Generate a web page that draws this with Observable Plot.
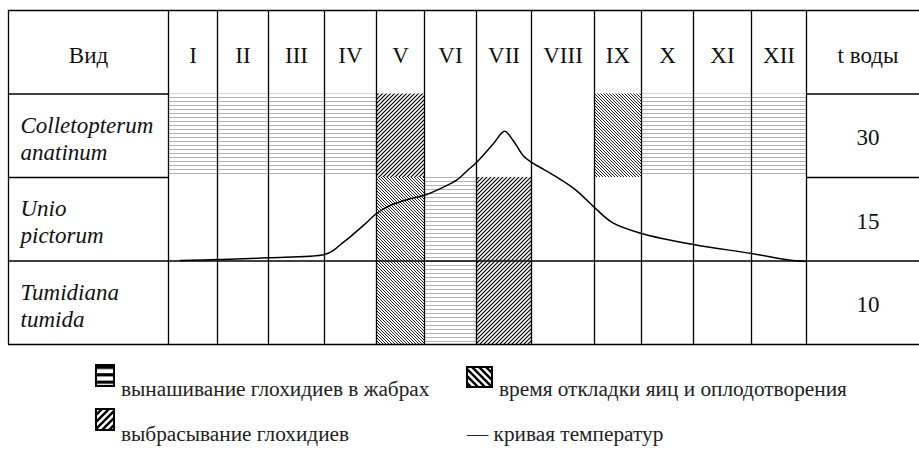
<!DOCTYPE html>
<html><head><meta charset="utf-8">
<script src="https://cdn.jsdelivr.net/npm/d3@7"></script>
<script src="https://cdn.jsdelivr.net/npm/@observablehq/plot@0.6"></script>
<style>
body{margin:0;background:#fff;width:919px;height:450px;overflow:hidden;font-family:'Liberation Serif';}
</style></head><body>
<svg width="0" height="0" style="position:absolute">
<defs>
  <pattern id="pBrood" patternUnits="userSpaceOnUse" width="8" height="4"><rect x="0" y="1" width="8" height="1" fill="#b2b2b2"/></pattern>
  <pattern id="pRelease" patternUnits="userSpaceOnUse" width="4" height="4"><path d="M-1,1 L1,-1 M0,4 L4,0 M3,5 L5,3" stroke="#000" stroke-width="1.2"/></pattern>
  <pattern id="pSpawn" patternUnits="userSpaceOnUse" width="3" height="3"><path d="M-1,2 L1,4 M0,0 L3,3 M2,-1 L4,1" stroke="#222" stroke-width="1"/></pattern>
  <pattern id="lBrood" patternUnits="userSpaceOnUse" width="10" height="7.4" y="1"><rect x="0" y="0" width="10" height="3.2" fill="#000"/></pattern>
  <pattern id="lRelease" patternUnits="userSpaceOnUse" width="7" height="7"><path d="M-2,2 L2,-2 M0,7 L7,0 M5,9 L9,5" stroke="#000" stroke-width="2.4"/></pattern>
  <pattern id="lSpawn" patternUnits="userSpaceOnUse" width="7" height="7"><path d="M-2,5 L2,9 M0,0 L7,7 M5,-2 L9,2" stroke="#000" stroke-width="2.4"/></pattern>
</defs></svg>
<div id="chart"></div>
<div id="leg"></div>
<script>
// ---- data ----
const months = ["I","II","III","IV","V","VI","VII","VIII","IX","X","XI","XII"];
const species = ["Colletopterum\nanatinum", "Unio\npictorum", "Tumidiana\ntumida"];
const headerLeft = "Вид";
const headerRight = "t воды";
const tempTicks = [30, 15, 10];
// periods: [species index, first month, last month]
const brooding = [[0, 1, 4], [0, 10, 12], [1, 6, 6], [2, 6, 6]];   // вынашивание глохидиев
const release  = [[0, 5, 5], [1, 7, 7], [2, 7, 7]];                // выбрасывание глохидиев
const spawning = [[0, 9, 9], [1, 5, 5], [2, 5, 5]];                // откладка яиц
// temperature curve: month position (0 = start of I, 12 = end of XII), temperature
const curveMonth = [0.24, 1.0, 2.0, 3.0, 3.17, 3.31, 3.5, 3.77, 4.0, 4.29, 4.71, 5.0, 5.5, 5.63, 5.83, 6.0, 6.31, 6.51, 6.67, 6.85, 7.0, 7.14, 7.44, 7.71, 8.0, 8.38, 9.0, 10.0, 11.0, 11.75, 12.0];
const curveTemp  = [12.53, 12.59, 12.69, 12.89, 13.13, 13.49, 13.96, 14.69, 16.03, 17.5, 18.7, 19.3, 21.4, 22.1, 23.8, 25.2, 28.6, 30.8, 29.1, 26.4, 25.2, 24.3, 22.3, 20.2, 17.1, 14.8, 14.15, 13.49, 12.95, 12.53, 12.47];
const legendItems = ["вынашивание глохидиев в жабрах", "время откладки яиц и оплодотворения", "выбрасывание глохидиев", "— кривая температур"];

// ---- derived tables ----
const nRows = species.length + 1;
const toRect = ([s, a, b]) => ({x1: a - 1, x2: b, y1: s + 1, y2: s + 2});
const tempRow = d3.scaleLinear().domain(tempTicks).range(tempTicks.map((_, i) => i + 1.5));
const curve = curveMonth.map((m, i) => ({m, r: tempRow(curveTemp[i])}));
const colBounds = d3.range(-1, months.length + 1);
const fullRules = [0, nRows - 1, nRows];
const partRules = d3.range(1, nRows - 1);
const hSegs = [
  ...fullRules.map(y => ({y, x1: -1, x2: months.length + 1})),
  ...partRules.flatMap(y => [{y, x1: -1, x2: 0}, {y, x1: months.length, x2: months.length + 1}])
];
const font = "Liberation Serif";
const fs = 23;

const chart = Plot.plot({
  width: 919, height: 350,
  marginTop: 0, marginRight: 0, marginBottom: 0, marginLeft: 0,
  x: {type: "linear", domain: d3.range(-1, 14), range: [8, 168, 217, 268, 324, 376, 424, 476, 531, 594, 641, 693, 751, 806, 929], axis: null},
  y: {type: "linear", domain: [0, 4], range: [10, 344], axis: null},
  style: {background: "white", color: "black", overflow: "visible"},
  marks: [
    Plot.rect(brooding.map(toRect), {x1: "x1", x2: "x2", y1: "y1", y2: "y2", fill: "url(#pBrood)"}),
    Plot.rect(release.map(toRect), {x1: "x1", x2: "x2", y1: "y1", y2: "y2", fill: "url(#pRelease)"}),
    Plot.rect(spawning.map(toRect), {x1: "x1", x2: "x2", y1: "y1", y2: "y2", fill: "url(#pSpawn)"}),
    Plot.ruleX(colBounds, {x: d => d, y1: 0, y2: nRows, stroke: "black", strokeWidth: 1.3}),
    Plot.ruleY(hSegs, {y: "y", x1: "x1", x2: "x2", stroke: "black", strokeWidth: 1.3}),
    Plot.line(curve, {x: "m", y: "r", curve: "catmull-rom", stroke: "black", strokeWidth: 1.5}),
    Plot.text(months, {x: (d, i) => i + 0.5, y: 0.5, text: d => d, fontFamily: font, fontSize: fs, dy: 3, fill: "#111"}),
    Plot.text([headerLeft], {x: -0.5, y: 0.5, text: d => d, fontFamily: font, fontSize: fs, dy: 3, fill: "#111"}),
    Plot.text([headerRight], {x: months.length + 0.5, y: 0.5, text: d => d, fontFamily: font, fontSize: fs, dy: 3, fill: "#111"}),
    Plot.text(species, {x: -1, y: (d, i) => i + 1.5, text: d => d, dx: 12, dy: 2, textAnchor: "start", lineAnchor: "middle", lineHeight: 1.17, fontFamily: font, fontSize: fs, fontStyle: "italic", fill: "#111"}),
    Plot.text(tempTicks, {x: months.length + 0.5, y: (d, i) => i + 1.5, text: d => String(d), fontFamily: font, fontSize: fs, dy: 2, fill: "#111"})
  ]
});
document.getElementById("chart").appendChild(chart);

// ---- legend ----
const leg = d3.select("#leg").append("svg").attr("width", 919).attr("height", 100)
  .attr("font-family", font).style("display", "block");
const lf = 21.3;
const items = [
  {pat: "lBrood", ix: 96, iy: 15, iw: 18, ih: 21, tx: 121, ty: 46, text: legendItems[0]},
  {pat: "lSpawn", ix: 467, iy: 17, iw: 25, ih: 20, tx: 499, ty: 46, text: legendItems[1]},
  {pat: "lRelease", ix: 96, iy: 59, iw: 18, ih: 21, tx: 121, ty: 91, text: legendItems[2]},
  {pat: null, tx: 467, ty: 91, text: legendItems[3]}
];
for (const it of items) {
  if (it.pat) {
    leg.append("rect").attr("x", it.ix).attr("y", it.iy).attr("width", it.iw).attr("height", it.ih)
      .attr("fill", `url(#${it.pat})`).attr("stroke", "black").attr("stroke-width", 2);
  }
  leg.append("text").attr("x", it.tx).attr("y", it.ty).attr("font-size", lf)
    .attr("font-family", font).attr("fill", "#222").text(it.text);
}
</script>
</body></html>
